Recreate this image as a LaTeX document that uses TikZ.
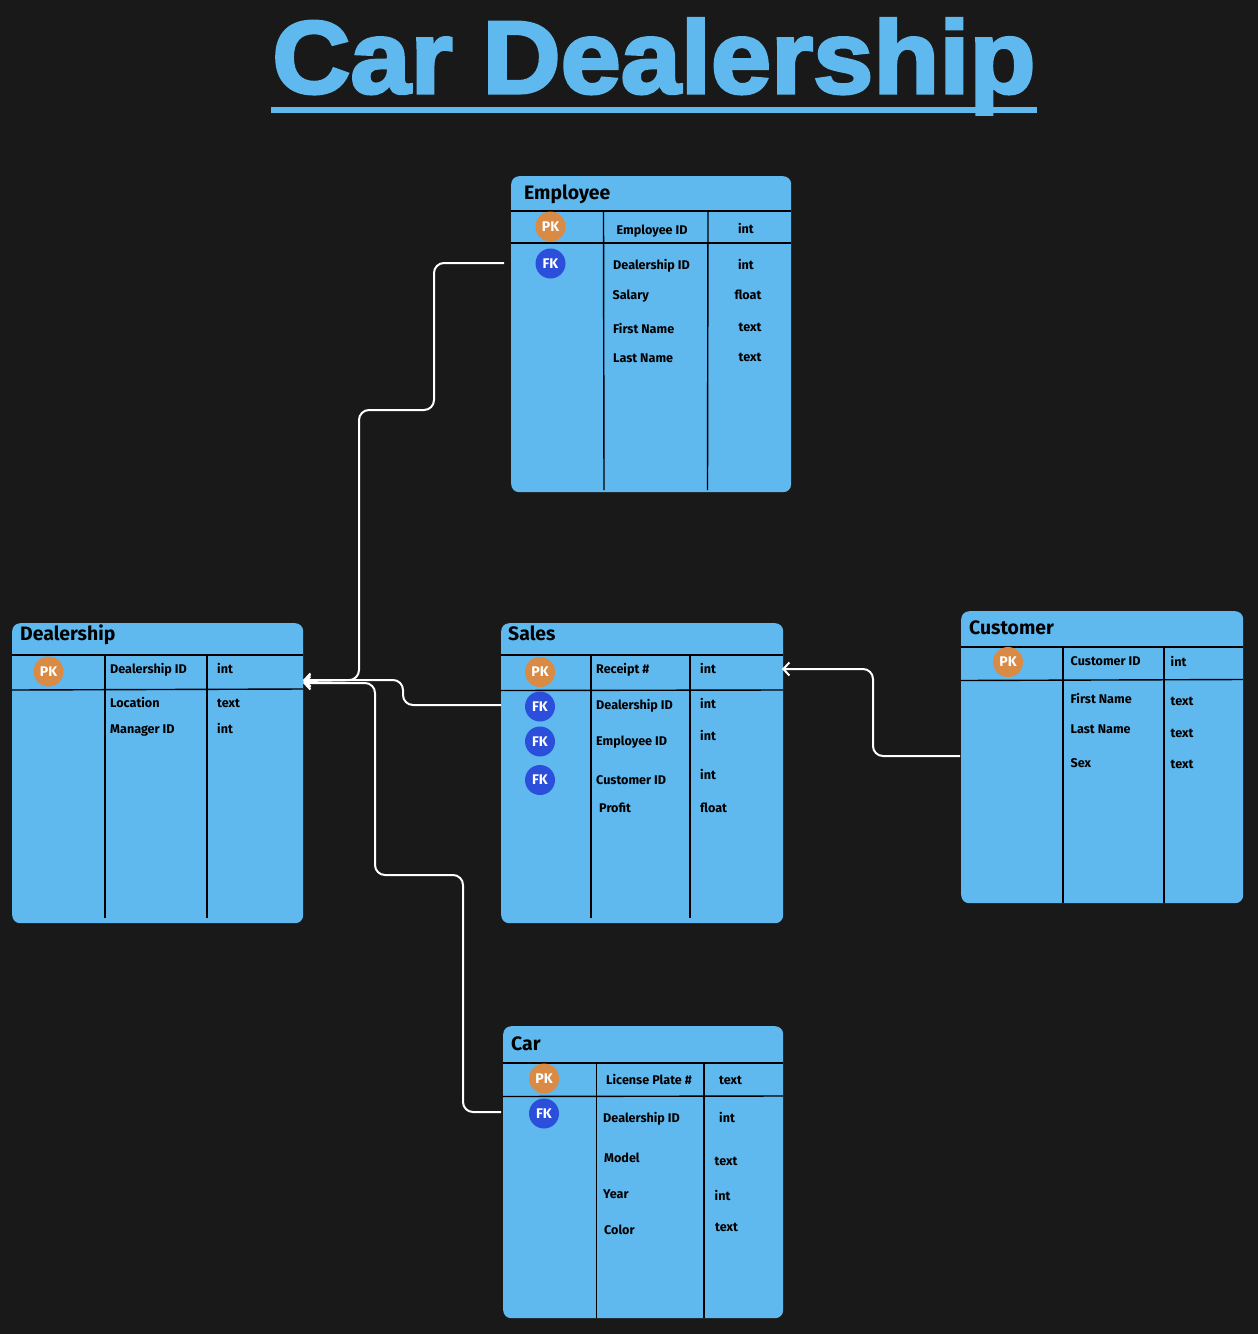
\documentclass[tikz,border=0pt]{standalone}
\usepackage{fontspec}
\setmainfont{Fira Sans}
\newfontfamily\titlefont{Liberation Sans Bold}[FakeBold=3,FakeStretch=1.05]
\usetikzlibrary{arrows.meta}
\definecolor{pagedark}{HTML}{191919}
\definecolor{tableblue}{HTML}{5FB8EE}
\definecolor{pkorange}{HTML}{D98A45}
\definecolor{fkblue}{HTML}{2B4FDB}
\tikzset{
  tablebox/.style={fill=tableblue,rounded corners=8pt,inner sep=0pt,anchor=north west},
  tabletitle/.style={font=\fontsize{19.4}{21}\selectfont\bfseries,anchor=base west,inner sep=0pt},
  field/.style={font=\fontsize{12.6}{14}\selectfont\bfseries,anchor=base west,inner sep=0pt},
  kind/.style={font=\fontsize{12.6}{14}\selectfont\bfseries,anchor=base,inner sep=0pt},
  rule/.style={black,line width=1.4pt},
  keybadge/.style={circle,minimum size=30pt,inner sep=0pt,text=white,font=\fontsize{14}{15}\selectfont\bfseries},
  pk/.style={keybadge,fill=pkorange},
  fk/.style={keybadge,fill=fkblue},
  link/.style={white,line width=2pt,rounded corners=10pt,-{Straight Barb[length=6pt,width=13pt]}}
}
\begin{document}
\begin{tikzpicture}[x=1pt,y=-1pt]
\useasboundingbox (0,0) rectangle (1258,1334);
\fill[pagedark] (0,0) rectangle (1258,1334);

% title
\node[font=\titlefont\fontsize{103}{105}\selectfont,text=tableblue,anchor=base,inner sep=0pt] (title) at (654,93) {Car Dealership};
\fill[tableblue] (271,107) rectangle (1037,112.5);

% employee
\node[tablebox,minimum width=280pt,minimum height=316pt] (employee) at (511,176) {};
\node[tabletitle] (employeename) at (524,199.5) {Employee};
\draw[rule] (511,211) -- (791,211);
\draw[rule] (511,243) -- (791,243);
\draw[rule] (603.5,211) -- (604,490);
\draw[rule] (708,211) -- (707.5,490);
\node[pk] (employeepk) at (550.5,226.5) {PK};
\node[fk] (employeefk) at (550.5,263.5) {FK};
\node[field] (employeef1) at (616.5,234.5) {Employee ID};
\node[field] (employeef2) at (613,269.5) {Dealership ID};
\node[field] (employeef3) at (612.5,299.5) {Salary};
\node[field] (employeef4) at (613,333.5) {First Name};
\node[field] (employeef5) at (613,362.5) {Last Name};
\node[kind] (employeek1) at (746,233) {int};
\node[kind] (employeek2) at (746,269) {int};
\node[kind] (employeek3) at (748,299) {float};
\node[kind] (employeek4) at (750,331) {text};
\node[kind] (employeek5) at (750,361) {text};

% dealership
\node[tablebox,minimum width=291pt,minimum height=300pt] (dealership) at (12,623) {};
\node[tabletitle] (dealershipname) at (20,640) {Dealership};
\draw[rule] (12,655) -- (303,655);
\draw[rule] (12,690) -- (303,689);
\draw[rule] (105,655) -- (105,918);
\draw[rule] (207,655) -- (207,918);
\node[pk] (dealershippk) at (48.5,671.5) {PK};
\node[field] (dealershipf1) at (110,673) {Dealership ID};
\node[field] (dealershipf2) at (110,707.5) {Location};
\node[field] (dealershipf3) at (110,733.5) {Manager ID};
\node[kind,anchor=base west] (dealershipk1) at (217,673) {int};
\node[kind,anchor=base west] (dealershipk2) at (217,707.5) {text};
\node[kind,anchor=base west] (dealershipk3) at (217,733.5) {int};

% sales
\node[tablebox,minimum width=282pt,minimum height=300pt] (sales) at (501,623) {};
\node[tabletitle] (salesname) at (508,640) {Sales};
\draw[rule] (501,655) -- (783,655);
\draw[rule] (501,690.5) -- (783,690);
\draw[rule] (591,655) -- (591,918);
\draw[rule] (690,655) -- (690,918);
\node[pk] (salespk) at (540,672) {PK};
\node[fk] (salesfk1) at (540,706.5) {FK};
\node[fk] (salesfk2) at (540,741.5) {FK};
\node[fk] (salesfk3) at (540,780) {FK};
\node[field] (salesf1) at (596,673) {Receipt \#};
\node[field] (salesf2) at (596,709) {Dealership ID};
\node[field] (salesf3) at (596,745) {Employee ID};
\node[field] (salesf4) at (596,784.5) {Customer ID};
\node[field] (salesf5) at (599,812) {Profit};
\node[kind,anchor=base west] (salesk1) at (700,673) {int};
\node[kind,anchor=base west] (salesk2) at (700,708) {int};
\node[kind,anchor=base west] (salesk3) at (700,740) {int};
\node[kind,anchor=base west] (salesk4) at (700,779) {int};
\node[kind,anchor=base west] (salesk5) at (700,812) {float};

% customer
\node[tablebox,minimum width=282pt,minimum height=292pt] (customer) at (961,611) {};
\node[tabletitle] (customername) at (969,634) {Customer};
\draw[rule] (961,647) -- (1243,647);
\draw[rule] (961,680.5) -- (1243,679.5);
\draw[rule] (1063,647) -- (1063,903);
\draw[rule] (1164,647) -- (1164,903);
\node[pk] (customerpk) at (1008,662) {PK};
\node[field] (customerf1) at (1070.5,665) {Customer ID};
\node[field] (customerf2) at (1070.5,703) {First Name};
\node[field] (customerf3) at (1070.5,733) {Last Name};
\node[field] (customerf4) at (1070.5,767.5) {Sex};
\node[kind,anchor=base west] (customerk1) at (1170.5,666) {int};
\node[kind,anchor=base west] (customerk2) at (1170.5,705) {text};
\node[kind,anchor=base west] (customerk3) at (1170.5,737) {text};
\node[kind,anchor=base west] (customerk4) at (1170.5,768) {text};

% car
\node[tablebox,minimum width=280pt,minimum height=292pt] (car) at (503,1026) {};
\node[tabletitle] (carname) at (511,1050) {Car};
\draw[rule] (503,1063) -- (783,1063);
\draw[rule] (503,1096.5) -- (783,1096);
\draw[rule] (596.5,1063) -- (596.5,1318);
\draw[rule] (704,1063) -- (704,1318);
\node[pk] (carpk) at (544,1078.5) {PK};
\node[fk] (carfk) at (544,1113.5) {FK};
\node[field] (carf1) at (606,1084.5) {License Plate \#};
\node[field] (carf2) at (603,1122.5) {Dealership ID};
\node[field] (carf3) at (604,1162.5) {Model};
\node[field] (carf4) at (603,1198.5) {Year};
\node[field] (carf5) at (604,1234) {Color};
\node[kind,anchor=base west] (cark1) at (719,1084.5) {text};
\node[kind,anchor=base west] (cark2) at (719,1122.5) {int};
\node[kind,anchor=base west] (cark3) at (714.5,1165.5) {text};
\node[kind,anchor=base west] (cark4) at (714.5,1200) {int};
\node[kind,anchor=base west] (cark5) at (715,1231) {text};

% links
\coordinate (employeeout) at (504,263);
\coordinate (salesout) at (501,705);
\coordinate (customerout) at (960,756);
\coordinate (carout) at (501,1112);
\coordinate (dealershipin) at (303,681);
\coordinate (dealershiplow) at (303,683);
\coordinate (dealershiphigh) at (303,680);
\coordinate (salesin) at (782,669);
\draw[link] (employeeout) -- ++(-70,0) -- ++(0,147) -- ++(-75,0) -- ++(0,270) -- (dealershipin);
\draw[link] (salesout) -- ++(-98,0) -- ++(0,-25) -- (dealershiphigh);
\draw[link] (carout) -- ++(-38,0) -- ++(0,-237) -- ++(-88,0) -- ++(0,-192) -- (dealershiplow);
\draw[link] (customerout) -- ++(-87,0) -- ++(0,-87) -- (salesin);
\end{tikzpicture}
\end{document}
